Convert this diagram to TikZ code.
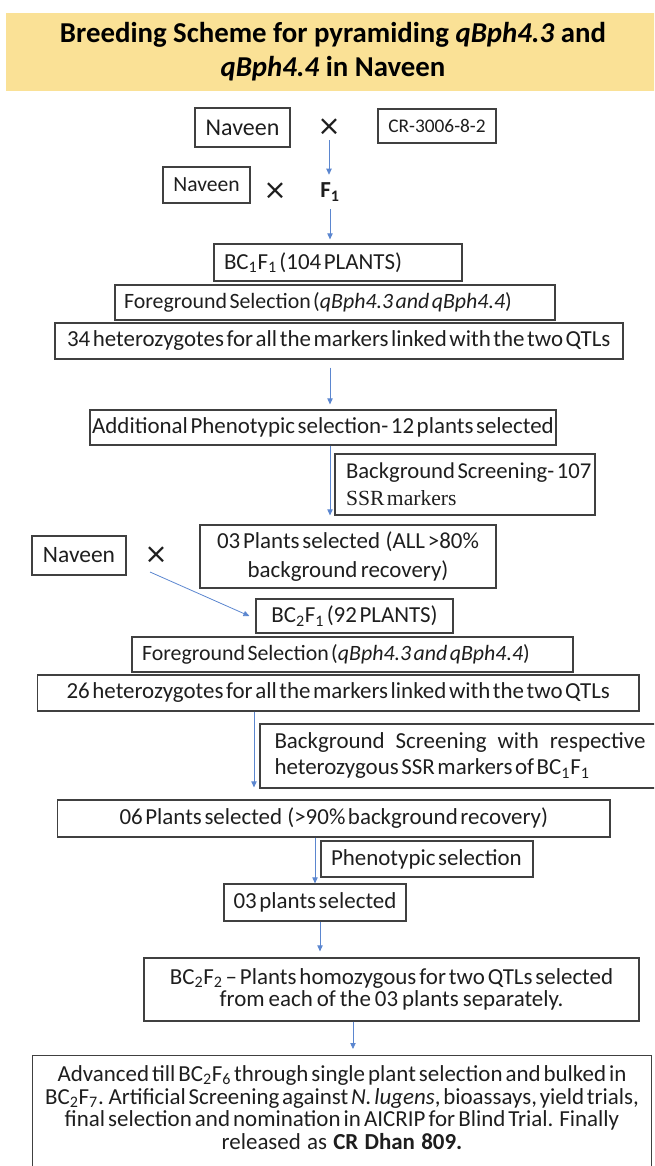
\documentclass[tikz,border=0pt]{standalone}
\usepackage{fontspec}
\setmainfont{Carlito}[WordSpace=0.5]
\newfontfamily\titlef{Carlito}
\newfontfamily\serifx{Liberation Serif}
\newfontfamily\djv{DejaVu Sans}
\usetikzlibrary{arrows.meta}
\definecolor{boxc}{HTML}{404040}
\definecolor{arrc}{HTML}{5B86CF}
\definecolor{band}{HTML}{FAE196}
\definecolor{txt}{HTML}{1E1E1E}
\newcommand\bodyf{\fontsize{17.2}{20}\selectfont}
\lineskiplimit=-20pt
\begin{document}
\begin{tikzpicture}[x=0.75pt,y=-0.75pt,
  box/.style={draw=boxc, line width=0.9pt, inner sep=0pt, text=txt, font=\bodyf,
    execute at begin node={\spaceskip=0.113em plus 0.04em\relax\xspaceskip=0pt\relax}},
  arr/.style={draw=arrc, line width=0.6pt, -{Triangle[length=4.5pt,width=4pt]}},
  cross/.style={inner sep=0pt, text=txt, minimum height=19.5pt, font=\djv\fontsize{21}{21}\selectfont}]
\useasboundingbox (0,0) rectangle (654,1166);
\clip (0,0) rectangle (654,1166);

\node[fill=band, minimum width=490.5pt, minimum height=58.5pt, inner sep=0pt, align=center, text=black,
  font=\titlef\fontsize{21.6}{25.5}\selectfont\bfseries] (title) at (333,52)
  {Breeding Scheme for pyramiding \textit{qBph4.3} and\\\textit{qBph4.4} in Naveen};

\node[box, minimum width=71.25pt, minimum height=29.25pt, font=\fontsize{18}{20}\selectfont] (nav1) at (242.5,127.5) {Naveen};
\node[cross] (x1) at (329,127) {×};
\node[box, minimum width=88.5pt, minimum height=25.5pt, font=\fontsize{14.5}{16}\selectfont] (cr) at (437,126) {CR-3006-8-2};
\node[box, minimum width=65.25pt, minimum height=27pt, font=\fontsize{16.2}{18}\selectfont] (nav2) at (206.5,185) {Naveen};
\node[cross] (x2) at (275,191) {×};
\node[inner sep=0pt, minimum height=25.5pt, font=\bodyf\bfseries, text=txt] (f1) at (330,192) {F\textsubscript{1}};

\node[box, minimum width=186pt, minimum height=27.75pt, text width=171pt, align=left] (bc1) at (338,262.5)
  {BC\textsubscript{1}F\textsubscript{1} (104 PLANTS)};
\node[box, minimum width=330pt, minimum height=26.25pt, text width=316.5pt, align=left,
  font=\fontsize{16.4}{19}\selectfont] (fg1) at (335,302.5)
  {\mbox{Foreground Selection (\textit{qBph4.3 and qBph4.4})}};
\node[box, minimum width=426pt, minimum height=27pt, text width=408pt, align=left] (het34) at (339,341)
  {\mbox{34 heterozygotes for all the markers linked with the two QTLs}};
\node[box, minimum width=349.5pt, minimum height=26.25pt] (add) at (323,427.5)
  {Additional Phenotypic selection- 12 plants selected};
\node[box, minimum width=195pt, minimum height=45.75pt, text width=178.5pt, align=left,
  font=\fontsize{17}{20.25}\selectfont] (bg107) at (465,484.5)
  {\mbox{Background Screening- 107}\\{\serifx\fontsize{16.2}{20.25}\selectfont SSR markers}};
\node[box, minimum width=222pt, minimum height=47.25pt, text width=210pt, align=center,
  font=\fontsize{17.2}{21.75}\selectfont] (p03) at (348,556.5)
  {03 Plants selected\ \ (ALL >80\%\\background recovery)};
\node[box, minimum width=70.5pt, minimum height=29.25pt, font=\fontsize{17.6}{20}\selectfont] (nav3) at (79,555.5) {Naveen};
\node[cross] (x3) at (156,555) {×};
\node[box, minimum width=147.75pt, minimum height=25.5pt] (bc2) at (354.5,616)
  {BC\textsubscript{2}F\textsubscript{1} (92 PLANTS)};
\node[box, minimum width=330.75pt, minimum height=26.25pt, text width=315.75pt, align=left,
  font=\fontsize{16.4}{19}\selectfont] (fg2) at (352.5,654.5)
  {\mbox{Foreground Selection (\textit{qBph4.3 and qBph4.4})}};
\node[box, minimum width=451.1pt, minimum height=27pt] (het26) at (338.25,693)
  {26 heterozygotes for all the markers linked with the two QTLs};
\node[box, minimum width=300pt, minimum height=48pt, text width=278.25pt, align=left,
  font=\fontsize{17.2}{19.5}\selectfont] (bgresp) at (460,756)
  {Background\hfill Screening\hfill with\hfill respective\\heterozygous SSR markers of BC\textsubscript{1}F\textsubscript{1}};
\node[box, minimum width=414.4pt, minimum height=27.75pt] (p06) at (333.75,818.5)
  {06 Plants selected\ \ (>90\% background recovery)};
\node[box, minimum width=159pt, minimum height=27pt, text width=144pt, align=left] (phen) at (427,859)
  {Phenotypic selection};
\node[box, minimum width=136.5pt, minimum height=27.75pt] (p03b) at (315,902.5) {03 plants selected};
\node[box, minimum width=371.25pt, minimum height=47.25pt, text width=360pt, align=center,
  font=\fontsize{17.2}{16.8}\selectfont] (bc2f2) at (391.5,989.5)
  {BC\textsubscript{2}F\textsubscript{2} – Plants homozygous for two QTLs selected\\from each of the 03 plants separately.};
\node[box, anchor=north, minimum width=464.25pt, text width=455pt, align=center, inner ysep=7.5pt,
  font=\fontsize{17.2}{16.9}\selectfont] (final) at (342,1055)
  {Advanced till BC\textsubscript{2}F\textsubscript{6} through single plant selection and bulked in\\
   BC\textsubscript{2}F\textsubscript{7}. Artificial Screening against \textit{N. lugens}, bioassays, yield trials,\\
   final selection and nomination in AICRIP for Blind Trial. Finally\\
   released as \textbf{CR Dhan 809.}\rule[-40pt]{0pt}{0pt}};

\draw[arr] (x1.south) -- (x1.south |- f1.north);
\draw[arr, shorten >=3pt] (f1.south) -- (f1.south |- bc1.north);
\draw[arr, shorten <=6pt, shorten >=3.75pt] (f1.south |- het34.south) -- (f1.south |- add.north);
\draw[arr, shorten >=6.75pt] (f1.south |- add.south) -- (f1.south |- p03.north);
\draw[arr] ([xshift=-4.5pt,yshift=-12.75pt]x3.center) -- ([xshift=-4.5pt]bc2.west);
\draw[arr, shorten >=9pt] ([xshift=-63.2pt]het26.south) -- ([xshift=-63.2pt]het26.south |- p06.north);
\draw[arr] (p03b.north |- p06.south) -- (p03b.north);
\draw[arr, shorten >=4.5pt] ([xshift=3.75pt]p03b.south) -- ([xshift=3.75pt]p03b.south |- bc2f2.north);
\draw[arr, shorten >=4.5pt] ([xshift=-28.9pt]bc2f2.south) -- ([xshift=-28.9pt]bc2f2.south |- final.north);
\end{tikzpicture}
\end{document}
